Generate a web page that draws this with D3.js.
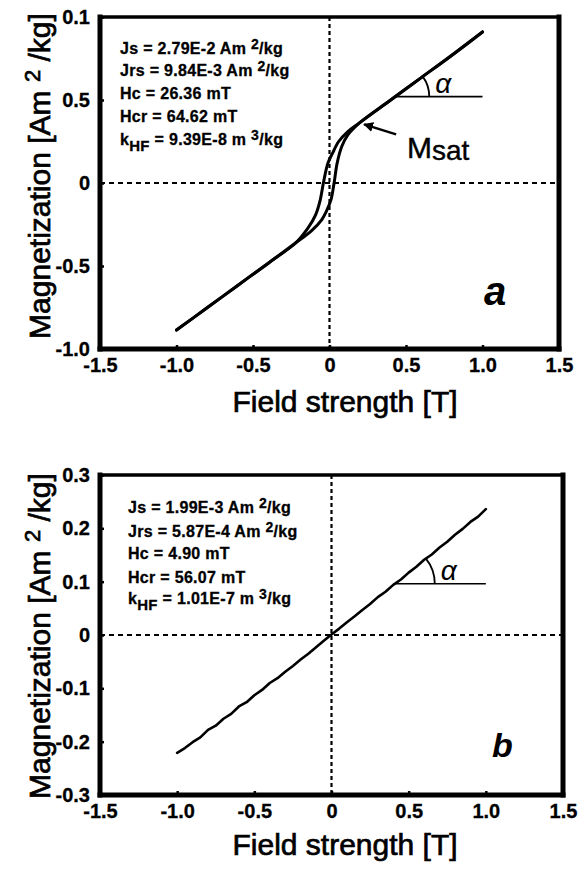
<!DOCTYPE html>
<html>
<head>
<meta charset="utf-8">
<script src="https://cdn.jsdelivr.net/npm/d3@7"></script>
<style>
  html, body { margin: 0; padding: 0; background: #fff; }
  svg { display: block; }
  text { font-family: "Liberation Sans", Arial, Helvetica, sans-serif; fill: #000; }
</style>
</head>
<body>
<svg id="chart" width="582" height="869"></svg>
<script>
// ---------------- DATA ----------------
const xTickValues = [-1.5, -1.0, -0.5, 0, 0.5, 1.0, 1.5];
const xTickLabels = ["-1.5", "-1.0", "-0.5", "0", "0.5", "1.0", "1.5"];

const yTickValuesA = [1.0, 0.5, 0, -0.5, -1.0];
const yTickLabelsA = ["0.1", "0.5", "0", "-0.5", "-1.0"];   // top label printed as "0.1" in the original

const yTickValuesB = [0.3, 0.2, 0.1, 0, -0.1, -0.2, -0.3];
const yTickLabelsB = ["0.3", "0.2", "0.1", "0", "-0.1", "-0.2", "-0.3"];

// Panel a: hysteresis loop, ascending-field branch (lower/right branch)
const fieldA_up = [-1.0, -0.8, -0.6, -0.4, -0.22, -0.12, -0.05, -0.02, 0.01, 0.03, 0.05, 0.08, 0.12, 0.2, 0.4, 0.6, 0.8, 1.0];
const magA_up   = [-0.886, -0.752, -0.617, -0.483, -0.36, -0.29, -0.22, -0.17, -0.10, 0.0, 0.12, 0.22, 0.29, 0.365, 0.50, 0.635, 0.77, 0.91];
// Panel a: descending-field branch (upper/left branch)
const fieldA_down = [1.0, 0.8, 0.6, 0.4, 0.2, 0.12, 0.06, 0.02, -0.01, -0.04, -0.06, -0.09, -0.14, -0.22, -0.4, -0.6, -0.8, -1.0];
const magA_down   = [0.91, 0.77, 0.635, 0.50, 0.365, 0.31, 0.25, 0.18, 0.12, 0.0, -0.10, -0.19, -0.27, -0.36, -0.483, -0.617, -0.752, -0.886];

// Panel b: nearly linear (paramagnetic) curve
const fieldB = [-1.00, -0.95, -0.90, -0.85, -0.80, -0.75, -0.70, -0.65, -0.60, -0.55, -0.50, -0.45, -0.40, -0.35, -0.30, -0.25, -0.20, -0.15, -0.10, -0.05,
                 0.00, 0.05, 0.10, 0.15, 0.20, 0.25, 0.30, 0.35, 0.40, 0.45, 0.50, 0.55, 0.60, 0.65, 0.70, 0.75, 0.80, 0.85, 0.90, 0.95, 1.00];
const magB   = [-0.221, -0.212, -0.201, -0.192, -0.178, -0.170, -0.157, -0.148, -0.134, -0.126, -0.113, -0.103, -0.090, -0.081, -0.069, -0.058, -0.046, -0.035, -0.023, -0.011,
                 0.001, 0.012, 0.024, 0.035, 0.047, 0.058, 0.071, 0.081, 0.094, 0.104, 0.117, 0.128, 0.141, 0.151, 0.164, 0.175, 0.188, 0.199, 0.212, 0.222, 0.236];

// Parameter annotations: [prefix, superscript/subscript, suffix, kind]
const paramsA = [
  ["Js = 2.79E-2 Am", "2", "/kg", "sup"],
  ["Jrs = 9.84E-3 Am", "2", "/kg", "sup"],
  ["Hc = 26.36 mT", "", "", "none"],
  ["Hcr = 64.62 mT", "", "", "none"],
  ["k", "HF", " = 9.39E-8 m", "sub", "3", "/kg"]
];
const paramsB = [
  ["Js = 1.99E-3 Am", "2", "/kg", "sup"],
  ["Jrs = 5.87E-4 Am", "2", "/kg", "sup"],
  ["Hc = 4.90 mT", "", "", "none"],
  ["Hcr = 56.07 mT", "", "", "none"],
  ["k", "HF", " = 1.01E-7 m", "sub", "3", "/kg"]
];

const xTitle = "Field strength [T]";
const yTitleMain = "Magnetization [Am";
const yTitleSup = "2";
const yTitleEnd = " /kg]";

// ---------------- DRAW ----------------
const svg = d3.select("#chart");

function drawPanel(cfg) {
  const x = d3.scaleLinear().domain([-1.5, 1.5]).range([cfg.left, cfg.right]);
  const y = d3.scaleLinear().domain(cfg.yDomain).range([cfg.bottom, cfg.top]);
  const g = svg.append("g");

  // dashed zero lines
  g.append("line").attr("x1", x(-1.5)).attr("x2", x(1.5)).attr("y1", y(0)).attr("y2", y(0))
    .attr("stroke", "#000").attr("stroke-width", 2).attr("stroke-dasharray", "5,4");
  g.append("line").attr("x1", x(0)).attr("x2", x(0)).attr("y1", y(cfg.yDomain[1])).attr("y2", y(cfg.yDomain[0]))
    .attr("stroke", "#000").attr("stroke-width", 2.2).attr("stroke-dasharray", "4,3");

  // axes
  const xAxis = d3.axisBottom(x).tickValues(xTickValues)
    .tickFormat((d, i) => xTickLabels[i]).tickSize(-4).tickPadding(9);
  const gx = g.append("g").attr("transform", `translate(0,${cfg.bottom})`).call(xAxis);
  gx.select(".domain").remove();
  gx.selectAll("line").attr("stroke", "#000").attr("stroke-width", 2.5);
  gx.selectAll("text").attr("font-size", 20).attr("font-weight", "bold")
    .attr("font-family", "Liberation Sans, Arial, sans-serif").attr("fill", "#000")
    .attr("stroke", "#000").attr("stroke-width", 0.3);

  const yAxis = d3.axisLeft(y).tickValues(cfg.yTicks)
    .tickFormat((d, i) => cfg.yLabels[i]).tickSize(-4).tickPadding(10);
  const gy = g.append("g").attr("transform", `translate(${cfg.left},0)`).call(yAxis);
  gy.select(".domain").remove();
  gy.selectAll("line").attr("stroke", "#000").attr("stroke-width", 2.5);
  gy.selectAll("text").attr("font-size", 20).attr("font-weight", "bold")
    .attr("font-family", "Liberation Sans, Arial, sans-serif").attr("fill", "#000")
    .attr("stroke", "#000").attr("stroke-width", 0.3);

  // frame
  const fr = g.append("g").attr("stroke", "#000").attr("stroke-linecap", "square");
  fr.append("line").attr("x1", cfg.left).attr("x2", cfg.right).attr("y1", cfg.top).attr("y2", cfg.top).attr("stroke-width", 3.5);
  fr.append("line").attr("x1", cfg.left).attr("x2", cfg.right).attr("y1", cfg.bottom).attr("y2", cfg.bottom).attr("stroke-width", 5);
  fr.append("line").attr("x1", cfg.left).attr("x2", cfg.left).attr("y1", cfg.top).attr("y2", cfg.bottom).attr("stroke-width", 5);
  fr.append("line").attr("x1", cfg.right).attr("x2", cfg.right).attr("y1", cfg.top).attr("y2", cfg.bottom).attr("stroke-width", 5);

  // data curves
  const line = d3.line().x(d => x(d[0])).y(d => y(d[1])).curve(cfg.curve);
  cfg.series.forEach(s => {
    g.append("path").datum(d3.zip(s.f, s.m)).attr("d", line)
      .attr("fill", "none").attr("stroke", "#000").attr("stroke-width", cfg.lw)
      .attr("stroke-linejoin", "round").attr("stroke-linecap", "round");
  });

  // alpha angle annotation
  const s0 = cfg.series[0];
  const pts = d3.zip(s0.f, s0.m).sort((a, b) => a[0] - b[0]);
  const interp = f => {
    for (let i = 1; i < pts.length; i++) {
      if (pts[i][0] >= f) {
        const t = (f - pts[i - 1][0]) / (pts[i][0] - pts[i - 1][0]);
        return pts[i - 1][1] + t * (pts[i][1] - pts[i - 1][1]);
      }
    }
    return pts[pts.length - 1][1];
  };
  const ax = x(cfg.alphaField), ay = y(interp(cfg.alphaField));
  const ex = x(1.0), ey = y(interp(1.0));
  g.append("line").attr("x1", ax).attr("x2", x(1.0)).attr("y1", ay).attr("y2", ay)
    .attr("stroke", "#000").attr("stroke-width", 1.6);
  const ang = Math.atan2(ay - ey, ex - ax);
  const r = cfg.arcR;
  g.append("path")
    .attr("d", `M${ax + r},${ay} A${r},${r} 0 0 0 ${ax + r * Math.cos(ang)},${ay - r * Math.sin(ang)}`)
    .attr("fill", "none").attr("stroke", "#000").attr("stroke-width", 1.8);
  g.append("text").attr("x", ax + r + 6).attr("y", ay - 4).attr("font-size", 28)
    .attr("font-style", "italic").text("α");

  // parameter text
  cfg.params.forEach((p, i) => {
    const t = g.append("text").attr("x", cfg.pX).attr("y", cfg.pY[i])
      .attr("font-size", 16).attr("font-weight", "bold").attr("letter-spacing", 0.3)
      .attr("stroke", "#000").attr("stroke-width", 0.3);
    if (p[3] === "sup") {
      t.append("tspan").text(p[0] + " ");
      t.append("tspan").attr("dy", -5).attr("font-size", 14).text(p[1]);
      t.append("tspan").attr("dy", 5).text(p[2]);
    } else if (p[3] === "sub") {
      t.append("tspan").text(p[0]);
      t.append("tspan").attr("dy", 6).attr("font-size", 15).text(p[1]);
      t.append("tspan").attr("dy", -6).text(p[2] + " ");
      t.append("tspan").attr("dy", -5).attr("font-size", 14).text(p[4]);
      t.append("tspan").attr("dy", 5).text(p[5]);
    } else {
      t.append("tspan").text(p[0]);
    }
  });

  // panel letter
  g.append("text").attr("x", cfg.letterX).attr("y", cfg.letterY).attr("font-size", cfg.letterSize)
    .attr("font-style", "italic").attr("font-weight", "bold").text(cfg.letter);

  // axis titles
  g.append("text").attr("x", cfg.xTitleX).attr("y", cfg.xTitleY).attr("text-anchor", "middle")
    .attr("font-size", 30).attr("stroke", "#000").attr("stroke-width", 0.7).text(xTitle);
  const yt = g.append("text").attr("transform", `translate(50,${cfg.yTitleY}) rotate(-90)`)
    .attr("text-anchor", "middle").attr("font-size", 30).attr("stroke", "#000").attr("stroke-width", 0.7);
  yt.append("tspan").text(yTitleMain + " ");
  yt.append("tspan").attr("dy", -10).attr("font-size", 22).text(yTitleSup);
  yt.append("tspan").attr("dy", 10).text(yTitleEnd);

  return { x, y, g };
}

const pa = drawPanel({
  left: 100, right: 559, top: 17, bottom: 349, yDomain: [-1.0, 1.0],
  yTicks: yTickValuesA, yLabels: yTickLabelsA,
  series: [{ f: fieldA_up, m: magA_up }, { f: fieldA_down, m: magA_down }],
  curve: d3.curveCatmullRom.alpha(0.5), lw: 3,
  alphaField: 0.43, arcR: 34,
  params: paramsA, pX: 120, pY: [54, 76, 99, 122, 145],
  letter: "a", letterX: 484, letterY: 305, letterSize: 40,
  xTitleX: 345, xTitleY: 412, yTitleY: 176
});

// Msat annotation on panel a (arrow pointing at the knee of the curve)
const kneeF = 0.2, kneeM = 0.365;
const kx = pa.x(kneeF) + 4, ky = pa.y(kneeM) + 2;
const defs = svg.append("defs");
defs.append("marker").attr("id", "arr").attr("viewBox", "0 0 10 10").attr("refX", 9).attr("refY", 5)
  .attr("markerWidth", 4).attr("markerHeight", 4).attr("orient", "auto")
  .append("path").attr("d", "M0,0 L10,5 L0,10 z").attr("fill", "#000");
pa.g.append("line").attr("x1", kx + 32).attr("y1", ky + 10).attr("x2", kx).attr("y2", ky)
  .attr("stroke", "#000").attr("stroke-width", 2.5).attr("marker-end", "url(#arr)");
const ms = pa.g.append("text").attr("x", 407).attr("y", 158).attr("font-size", 30)
  .attr("stroke", "#000").attr("stroke-width", 0.4);
ms.append("tspan").text("M");
ms.append("tspan").attr("dy", 2).attr("font-size", 28).text("sat");

drawPanel({
  left: 100, right: 563, top: 475, bottom: 795, yDomain: [-0.3, 0.3],
  yTicks: yTickValuesB, yLabels: yTickLabelsB,
  series: [{ f: fieldB, m: magB }],
  curve: d3.curveLinear, lw: 2.6,
  alphaField: 0.41, arcR: 40,
  params: paramsB, pX: 128, pY: [513, 537, 559, 583, 604],
  letter: "b", letterX: 492, letterY: 757, letterSize: 34,
  xTitleX: 345, xTitleY: 855, yTitleY: 636
});
</script>
</body>
</html>
